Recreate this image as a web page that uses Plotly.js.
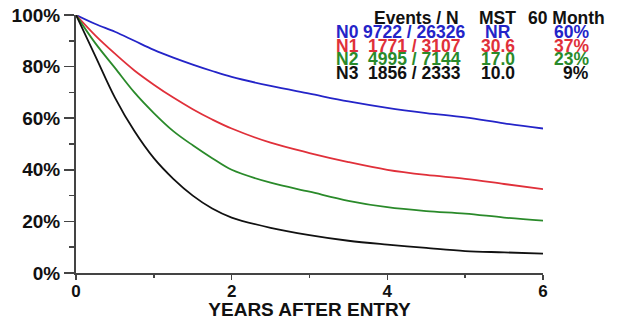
<!DOCTYPE html>
<html>
<head>
<meta charset="utf-8">
<script src="https://cdn.plot.ly/plotly-3.0.1.min.js"></script>
<style>html,body{margin:0;padding:0;background:#fff;}#chart{width:617px;height:320px;}</style>
</head>
<body>
<div id="chart"></div>
<script>
// Data (survival %, years after entry)
var years = [0, 0.25, 0.5, 0.75, 1, 1.25, 1.5, 1.75, 2, 2.5, 3, 3.5, 4, 4.5, 5, 5.5, 6];
var survN0 = [100, 96.5, 93.5, 90, 86.5, 83.5, 80.8, 78.3, 76, 72.5, 69.5, 66.5, 64, 62, 60.3, 58, 56];
var survN1 = [100, 92, 85, 78.5, 73, 68, 63.5, 59.5, 56, 50.5, 46.5, 43, 40, 38, 36.5, 34.5, 32.5];
var survN2 = [100, 89, 79.5, 70, 62, 55, 49.5, 44.5, 40, 35, 31.5, 28, 25.5, 24, 23, 21.5, 20.3];
var survN3 = [100, 84, 68, 55, 44.5, 36.5, 30, 25, 21.5, 17.5, 14.7, 12.5, 11, 9.7, 8.5, 8, 7.5];

var groups = ["N0", "N1", "N2", "N3"];
var eventsN = ["9722 / 26326", "1771 / 3107", "4995 / 7144", "1856 / 2333"];
var mst = ["NR", "30.6", "17.0", "10.0"];
var month60 = ["60%", "37%", "23%", "9%"];
var headers = ["Events / N", "MST", "60 Month"];
var yTickVals = [0, 20, 40, 60, 80, 100];
var yTickText = ["0%", "20%", "40%", "60%", "80%", "100%"];
var xTickVals = [0, 2, 4, 6];
var xTickText = ["0", "2", "4", "6"];

var colors = ["#2424c8", "#e0303a", "#2a8a2a", "#111111"];
var series = [survN0, survN1, survN2, survN3];

var traces = series.map(function (s, i) {
  return {
    x: years, y: s, type: "scatter", mode: "lines", name: groups[i],
    line: {color: colors[i], width: 1.8, shape: "spline", smoothing: 1},
    hoverinfo: "skip"
  };
});

var FONT = "Liberation Sans, Arial, sans-serif";
var FS = 17.5;
var ann = [];
var colX = [416, 497, 566];
headers.forEach(function (h, j) {
  ann.push({xref: "paper", yref: "paper", x: (colX[j] - 76) / 467, y: 1 - (17.5 - 15) / 258,
    text: h, showarrow: false, xanchor: "center", yanchor: "middle",
    font: {family: FONT, size: FS, color: "#111", weight: "bold"}});
});
var rowY = [31.5, 45.5, 59.5, 73.5];
groups.forEach(function (g, i) {
  var yp = 1 - (rowY[i] - 15) / 258;
  var f = {family: FONT, size: FS, color: colors[i], weight: "bold"};
  ann.push({xref: "paper", yref: "paper", x: (334 - 76) / 467, y: yp, text: g, showarrow: false,
    xanchor: "left", yanchor: "middle", font: f});
  ann.push({xref: "paper", yref: "paper", x: (414 - 76) / 467, y: yp, text: eventsN[i], showarrow: false,
    xanchor: "center", yanchor: "middle", font: f});
  ann.push({xref: "paper", yref: "paper", x: (498 - 76) / 467, y: yp, text: mst[i], showarrow: false,
    xanchor: "center", yanchor: "middle", font: f});
  ann.push({xref: "paper", yref: "paper", x: (591 - 76) / 467, y: yp, text: month60[i], showarrow: false,
    xanchor: "right", yanchor: "middle", font: f});
});

var layout = {
  width: 617, height: 320,
  margin: {l: 76, r: 74, t: 15, b: 47, pad: 0},
  paper_bgcolor: "#fff", plot_bgcolor: "#fff",
  showlegend: false,
  font: {family: FONT, color: "#111"},
  xaxis: {
    range: [0, 6], tickmode: "array", tickvals: xTickVals, ticktext: xTickText,
    ticks: "outside", ticklen: 5, tickwidth: 1.5, tickcolor: "#444", ticklabelstandoff: -3,
    showline: true, linecolor: "#444", linewidth: 2, showgrid: false, zeroline: false,
    tickfont: {family: FONT, size: 17, color: "#111", weight: "bold"},
    minor: {dtick: 1, ticks: "outside", ticklen: 3, tickwidth: 1.5, tickcolor: "#444", showgrid: false},
    title: {text: "YEARS AFTER ENTRY", standoff: 0, font: {family: FONT, size: 19, color: "#111", weight: "bold"}}
  },
  yaxis: {
    range: [0, 100], tickmode: "array", tickvals: yTickVals, ticktext: yTickText,
    ticks: "outside", ticklen: 10, tickwidth: 1.5, tickcolor: "#444",
    showline: true, linecolor: "#444", linewidth: 2, showgrid: false, zeroline: false,
    tickfont: {family: FONT, size: 19, color: "#111", weight: "bold"},
    minor: {dtick: 10, ticks: "outside", ticklen: 5, tickwidth: 1.5, tickcolor: "#444", showgrid: false}
  },
  annotations: ann
};

Plotly.newPlot("chart", traces, layout, {staticPlot: true, displayModeBar: false});
</script>
</body>
</html>
